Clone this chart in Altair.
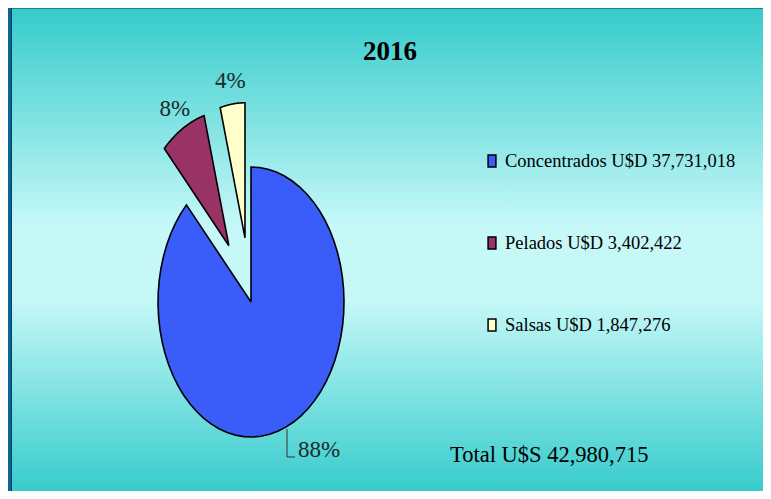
import altair as alt
import pandas as pd

# ---- data ----
categories = ["Concentrados", "Pelados", "Salsas"]
values = [37731018, 3402422, 1847276]
percent_labels = ["88%", "8%", "4%"]
legend_labels = [
    "Concentrados U$D 37,731,018",
    "Pelados U$D 3,402,422",
    "Salsas U$D 1,847,276",
]
colors = ["#3a5cf8", "#993366", "#ffffcc"]
title_text = "2016"
total_text = "Total U$S 42,980,715"

W, H = 755, 483
SERIF = "Liberation Serif"
NSEG = 60

df = pd.DataFrame({
    "cat": categories,
    "value": values,
    "label": legend_labels,
    "pct": percent_labels,
    "idx": list(range(len(categories))),
})

xs = alt.Scale(domain=[-1, 1], range=[150, 336], nice=False, zero=False)
ys = alt.Scale(domain=[-1, 1], range=[429, 159], nice=False, zero=False)

base = (
    alt.Chart(df)
    .transform_joinaggregate(total="sum(value)")
    .transform_window(cum="sum(value)", sort=[alt.SortField("idx")], frame=[None, 0])
    .transform_calculate(
        share="datum.value / datum.total",
        a0="(datum.cum - datum.value) / datum.total * 2 * PI",
        a1="datum.cum / datum.total * 2 * PI",
    )
    .transform_calculate(
        mid="(datum.a0 + datum.a1) / 2",
        ex="datum.share < 0.5 ? 0.48 : 0",
    )
    .transform_calculate(
        ox="datum.ex * sin(datum.mid)",
        oy="datum.ex * cos(datum.mid)",
    )
)

# background panel with gradient
panel = alt.Chart(pd.DataFrame({"a": [0]})).mark_rect(
    color=alt.LinearGradient(
        gradient="linear",
        stops=[
            alt.GradientStop(color="#36cbcb", offset=0),
            alt.GradientStop(color="#c6f8f8", offset=0.45),
            alt.GradientStop(color="#c6f8f8", offset=0.6),
            alt.GradientStop(color="#36cbcb", offset=1),
        ],
        x1=0, x2=0, y1=0, y2=1,
    ),
    stroke="#0d3b55",
    strokeWidth=1,
).encode(x=alt.value(3.5), x2=alt.value(W + 2), y=alt.value(0), y2=alt.value(H + 2))

slices = (
    base.transform_calculate(pts=f"sequence(0, {NSEG + 3})")
    .transform_flatten(["pts"], as_=["k"])
    .transform_calculate(
        ang=f"datum.a0 + (datum.a1 - datum.a0) * (datum.k - 1) / {NSEG}",
    )
    .transform_calculate(
        px=f"(datum.k == 0 || datum.k == {NSEG + 2}) ? datum.ox : datum.ox + sin(datum.ang)",
        py=f"(datum.k == 0 || datum.k == {NSEG + 2}) ? datum.oy : datum.oy + cos(datum.ang)",
    )
    .mark_line(filled=True, stroke="black", strokeWidth=1.6, strokeJoin="miter")
    .encode(
        x=alt.X("px:Q", scale=xs, axis=None),
        y=alt.Y("py:Q", scale=ys, axis=None),
        order=alt.Order("k:Q"),
        fill=alt.Fill(
            "label:N",
            scale=alt.Scale(domain=legend_labels, range=colors),
            legend=alt.Legend(
                title=None,
                orient="none",
                legendX=471,
                legendY=140,
                symbolType="M-0.32,-0.5H0.32V0.5H-0.32Z",
                symbolSize=600,
                symbolStrokeColor="black",
                symbolStrokeWidth=1.5,
                symbolOpacity=1,
                labelFont=SERIF,
                labelFontSize=18.5,
                labelColor="black",
                labelLimit=400,
                labelOffset=0,
                rowPadding=59,
                padding=0,
            ),
        ),
    )
)

small_labels = (
    base.transform_filter("datum.ex > 0")
    .transform_calculate(
        lx="datum.ox + 1.17 * sin(datum.mid)",
        ly="datum.oy + 1.17 * cos(datum.mid)",
    )
    .mark_text(font=SERIF, fontSize=23, color="#1a2a2a", baseline="middle", align="center")
    .encode(x=alt.X("lx:Q", scale=xs), y=alt.Y("ly:Q", scale=ys), text="pct:N")
)

big_label = (
    base.transform_filter("datum.ex == 0")
    .mark_text(font=SERIF, fontSize=23, color="#1a2a2a", baseline="alphabetic", align="left")
    .encode(x=alt.value(290), y=alt.value(449), text="pct:N")
)

one = pd.DataFrame({"a": [0]})
leader_v = alt.Chart(one).mark_rule(color="#333333", strokeWidth=1).encode(
    x=alt.value(279), y=alt.value(421), y2=alt.value(449)
)
leader_h = alt.Chart(one).mark_rule(color="#333333", strokeWidth=1).encode(
    x=alt.value(279), x2=alt.value(287), y=alt.value(449)
)

title = alt.Chart(pd.DataFrame({"t": [title_text]})).mark_text(
    font=SERIF, fontSize=27, fontWeight="bold", color="black", align="center", baseline="alphabetic"
).encode(x=alt.value(382), y=alt.value(52), text="t:N")

total = alt.Chart(pd.DataFrame({"t": [total_text]})).mark_text(
    font=SERIF, fontSize=22.5, color="black", align="left", baseline="alphabetic"
).encode(x=alt.value(442), y=alt.value(454), text="t:N")

chart = (
    alt.layer(panel, slices, small_labels, big_label, leader_v, leader_h, title, total)
    .properties(width=W, height=H, autosize=alt.AutoSizeParams(type="none"), padding=0, background="#05669a")
    .configure_view(stroke=None)
)

chart.save("out.html", embed_options={"renderer": "svg", "actions": False})
